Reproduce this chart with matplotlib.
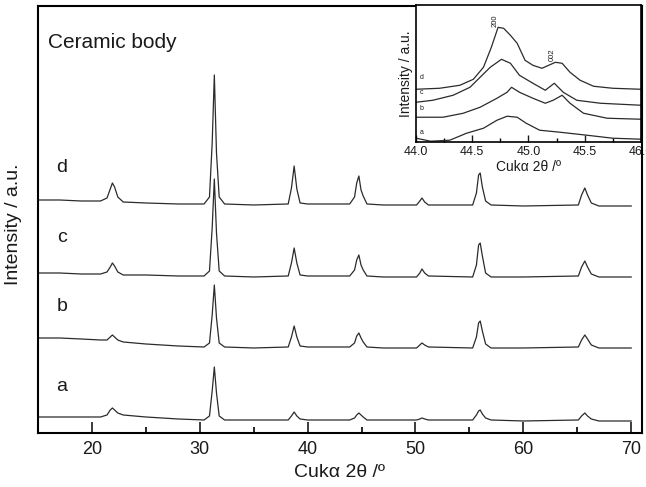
import matplotlib
matplotlib.use("Agg")
import matplotlib.pyplot as plt

plt.rcParams['font.family'] = ['Liberation Sans', 'DejaVu Sans']

# ---- main XRD patterns (2theta grid shared by all four samples) ----
two_theta = [15.0, 17.0, 19.0, 20.8, 21.4, 21.7, 21.9, 22.1, 22.4, 22.9,
             25.0, 28.0, 30.4, 30.9, 31.15, 31.35, 31.55, 31.8, 32.3, 35.0,
             38.2, 38.5, 38.75, 39.0, 39.3, 40.0, 43.9, 44.35, 44.55, 44.75,
             44.95, 45.15, 45.5, 47.0, 50.1, 50.4, 50.6, 50.85, 51.2, 55.3,
             55.65, 55.85, 56.0, 56.2, 56.5, 57.0, 60.0, 65.1, 65.4, 65.7,
             65.95, 66.3, 67.0, 70.0]

int_d = [233, 233, 232, 232, 235, 244, 250, 246, 236, 231,
         230, 229, 229, 236, 290, 358, 280, 236, 229, 228,
         229, 245, 267, 244, 230, 229, 229, 236, 250, 257,
         243, 237, 229, 228, 228, 232, 235, 231, 228, 228,
         240, 258, 260, 246, 232, 228, 227, 228, 238, 245,
         238, 230, 227, 227]
int_c = [160, 160, 159, 159, 161, 166, 170, 167, 161, 158,
         158, 157, 157, 162, 205, 254, 200, 162, 157, 156,
         157, 170, 185, 170, 158, 157, 157, 163, 173, 178,
         168, 163, 157, 156, 156, 160, 164, 160, 157, 156,
         168, 188, 190, 177, 160, 156, 156, 157, 166, 172,
         166, 159, 156, 156]
int_b = [95, 95, 94, 93, 93, 96, 98, 96, 93, 91,
         89, 87, 86, 90, 118, 148, 115, 90, 86, 85,
         86, 96, 107, 96, 87, 86, 86, 90, 97, 100,
         95, 91, 86, 85, 85, 88, 90, 88, 86, 85,
         96, 110, 112, 102, 89, 85, 85, 86, 93, 98,
         94, 88, 85, 85]
int_a = [16, 16, 16, 16, 18, 23, 25, 23, 20, 18,
         16, 14, 13, 17, 42, 66, 40, 17, 13, 13,
         13, 17, 21, 17, 14, 13, 13, 15, 18, 20,
         18, 16, 13, 13, 13, 14, 15, 14, 13, 13,
         18, 22, 23, 19, 15, 13, 12, 13, 17, 20,
         17, 14, 12, 12]

labels = ["a", "b", "c", "d"]
label_y = [46, 126, 195, 265]

# ---- inset: zoom on the (200)/(002) split ----
ins_d_x = [44.0, 44.21, 44.39, 44.51, 44.6, 44.67, 44.73, 44.78, 44.84, 44.9,
           44.97, 45.04, 45.12, 45.18, 45.24, 45.3, 45.37, 45.46, 45.58, 45.75, 46.0]
ins_d_y = [53, 54, 57, 63, 75, 95, 115, 114, 107, 99,
           82, 77, 74, 77, 80, 79, 70, 62, 56, 54, 53]
ins_c_x = [44.0, 44.15, 44.33, 44.48, 44.57, 44.66, 44.76, 44.84, 44.92, 45.04,
           45.15, 45.23, 45.31, 45.43, 45.64, 46.0]
ins_c_y = [40, 42, 47, 55, 65, 75, 83, 79, 67, 59, 52, 59, 50, 42, 39, 37]
ins_b_x = [44.0, 44.24, 44.42, 44.57, 44.72, 44.81, 44.85, 44.92, 45.04, 45.15,
           45.22, 45.3, 45.37, 45.49, 45.7, 46.0]
ins_b_y = [25, 25, 29, 35, 44, 50, 55, 50, 44, 39, 42, 47, 39, 29, 24, 23]
ins_a_x = [44.0, 44.13, 44.3, 44.45, 44.6, 44.72, 44.81, 44.9, 44.98, 45.1,
           45.28, 45.52, 45.75, 46.0]
ins_a_y = [4, 1, 2, 9, 14, 22, 26, 25, 19, 12, 10, 7, 4, 3]
ins_label_y = [5, 29, 45, 60]

line_col = "#2b2b2b"
txt_col = "#1a1a1a"

fig = plt.figure(figsize=(6.46, 4.87), dpi=100)
ax = fig.add_axes([0.0588, 0.1109, 0.9350, 0.8768])

for ys in (int_a, int_b, int_c, int_d):
    ax.plot(two_theta, ys, color=line_col, lw=0.9)
for lab, y in zip(labels, label_y):
    ax.text(17.2, y, lab, fontsize=14, color=txt_col, ha="center", va="center")
ax.text(15.9, 390, "Ceramic body", fontsize=15, color=txt_col, va="center")

ax.set_xlim(15, 71)
ax.set_ylim(0, 427)
ax.set_yticks([])
ax.set_xticks([20, 30, 40, 50, 60, 70])
ax.set_xticks([25, 35, 45, 55, 65], minor=True)
ax.tick_params(axis="x", which="major", direction="in", length=8, width=1.2,
               labelsize=13, colors=txt_col, pad=6)
ax.tick_params(axis="x", which="minor", direction="in", length=4, width=1.2)
ax.set_xlabel("Cukα 2θ /º", fontsize=14, color=txt_col, labelpad=4)
ax.set_ylabel("Intensity / a.u.", fontsize=14, color=txt_col)
ax.yaxis.set_label_coords(-0.027, 0.49)
for s in ax.spines.values():
    s.set_linewidth(1.5)

# inset
axi = fig.add_axes([0.644, 0.708, 0.348, 0.281])
axi.plot(ins_a_x, ins_a_y, color=line_col, lw=0.9)
axi.plot(ins_b_x, ins_b_y, color=line_col, lw=0.9)
axi.plot(ins_c_x, ins_c_y, color=line_col, lw=0.9)
axi.plot(ins_d_x, ins_d_y, color=line_col, lw=0.9)
for lab, y in zip(labels, ins_label_y):
    axi.text(44.05, y + 5, lab, fontsize=5, color=txt_col, ha="center", va="center")
axi.text(44.7, 122, "200", fontsize=5.5, rotation=90, ha="center", va="center", color=txt_col)
axi.text(45.21, 88, "002", fontsize=5.5, rotation=90, ha="center", va="center", color=txt_col)
axi.set_xlim(44.0, 46.0)
axi.set_ylim(0, 137)
axi.set_yticks([])
axi.set_xticks([44.0, 44.5, 45.0, 45.5, 46.0])
axi.set_xticklabels(["44.0", "44.5", "45.0", "45.5", "46.0"])
axi.set_xticks([44.25, 44.75, 45.25, 45.75], minor=True)
axi.tick_params(axis="x", which="major", direction="in", length=5, width=1.0,
                labelsize=9, colors=txt_col, pad=3)
axi.tick_params(axis="x", which="minor", direction="in", length=3, width=1.0)
axi.set_xlabel("Cukα 2θ /º", fontsize=10, color=txt_col, labelpad=1)
axi.set_ylabel("Intensity / a.u.", fontsize=10, color=txt_col, labelpad=2)
for s in axi.spines.values():
    s.set_linewidth(1.2)

fig.savefig("out.png", dpi=100)
